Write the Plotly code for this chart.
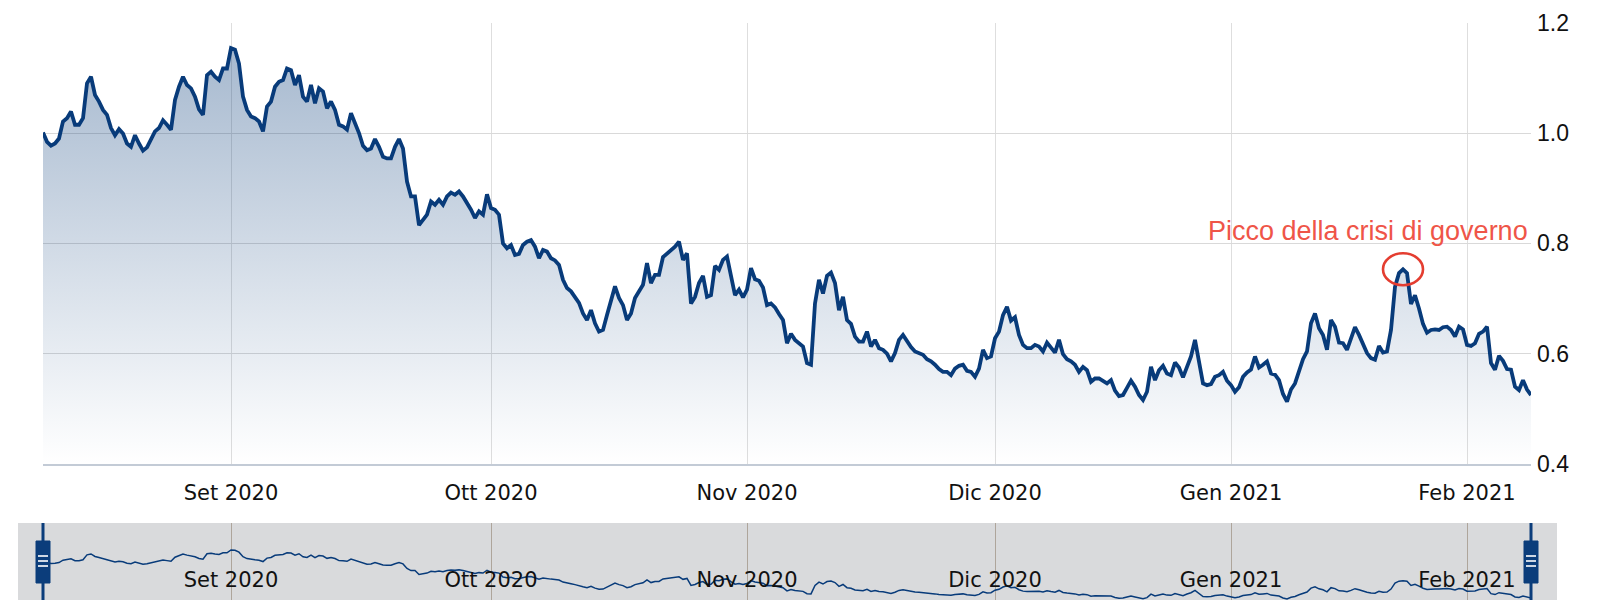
import pandas as pd
import plotly.graph_objects as go

# ---------------- data ----------------
aug_2020 = [1.001, 0.984, 0.977, 0.981, 0.990, 1.021, 1.027, 1.039, 1.015, 1.015,
            1.027, 1.090, 1.102, 1.069, 1.057, 1.042, 1.033, 1.009, 0.996, 1.007,
            0.999, 0.981, 0.975, 0.996, 0.981, 0.968, 0.974, 0.987, 1.003, 1.009,
            1.023, 1.015, 1.006, 1.060, 1.084, 1.102, 1.087, 1.081, 1.066, 1.043,
            1.033, 1.105, 1.111, 1.102, 1.096, 1.117, 1.117]
sep_2020 = [1.154, 1.151, 1.126, 1.066, 1.042, 1.030, 1.027, 1.021, 1.003, 1.048,
            1.057, 1.084, 1.093, 1.096, 1.117, 1.114, 1.087, 1.105, 1.066, 1.057,
            1.087, 1.054, 1.081, 1.075, 1.045, 1.057, 1.042, 1.015, 1.012, 1.006,
            1.036, 1.018, 1.000, 0.977, 0.969, 0.972, 0.989, 0.975, 0.957, 0.954,
            0.954, 0.975, 0.989, 0.972, 0.912, 0.885, 0.885, 0.833, 0.842, 0.852,
            0.876, 0.870, 0.879, 0.870, 0.885, 0.892, 0.888, 0.894, 0.885, 0.874,
            0.861, 0.846, 0.858, 0.852, 0.889]
oct_2020 = [0.864, 0.861, 0.852, 0.800, 0.791, 0.797, 0.779, 0.781, 0.797, 0.803,
            0.806, 0.794, 0.773, 0.788, 0.785, 0.773, 0.769, 0.761, 0.734, 0.719,
            0.713, 0.701, 0.692, 0.673, 0.661, 0.679, 0.655, 0.640, 0.643, 0.670,
            0.699, 0.722, 0.701, 0.688, 0.661, 0.673, 0.701, 0.713, 0.725, 0.764,
            0.728, 0.743, 0.743, 0.775, 0.781, 0.789, 0.794, 0.803, 0.770, 0.782,
            0.691, 0.703, 0.728, 0.741, 0.703, 0.706, 0.759, 0.752, 0.770, 0.776,
            0.740, 0.706, 0.716, 0.702]
nov_2020 = [0.716, 0.755, 0.735, 0.732, 0.720, 0.688, 0.691, 0.684, 0.672, 0.661,
            0.619, 0.636, 0.625, 0.618, 0.613, 0.583, 0.580, 0.691, 0.734, 0.709,
            0.741, 0.747, 0.728, 0.679, 0.703, 0.661, 0.654, 0.631, 0.622, 0.622,
            0.640, 0.613, 0.625, 0.610, 0.607, 0.600, 0.586, 0.601, 0.625, 0.634,
            0.622, 0.612, 0.604, 0.601, 0.598, 0.590, 0.586, 0.580, 0.572, 0.567,
            0.567, 0.561, 0.573, 0.578, 0.580, 0.569, 0.567, 0.558, 0.573, 0.607,
            0.592, 0.595]
dec_2020 = [0.628, 0.640, 0.670, 0.685, 0.660, 0.666, 0.634, 0.616, 0.610, 0.610,
            0.616, 0.613, 0.604, 0.620, 0.610, 0.602, 0.625, 0.599, 0.590, 0.586,
            0.580, 0.567, 0.576, 0.570, 0.549, 0.555, 0.555, 0.550, 0.546, 0.552,
            0.533, 0.523, 0.525, 0.538, 0.551, 0.540, 0.525, 0.516, 0.531, 0.576,
            0.552, 0.570, 0.578, 0.564, 0.561, 0.584, 0.575, 0.557, 0.578, 0.595,
            0.625, 0.589, 0.546, 0.543, 0.545, 0.558, 0.561, 0.567, 0.551]
jan_2021 = [0.543, 0.531, 0.539, 0.558, 0.566, 0.571, 0.595, 0.575, 0.580, 0.586,
            0.564, 0.562, 0.552, 0.527, 0.513, 0.535, 0.546, 0.568, 0.590, 0.604,
            0.655, 0.673, 0.646, 0.634, 0.607, 0.661, 0.649, 0.620, 0.619, 0.607,
            0.626, 0.648, 0.634, 0.616, 0.601, 0.592, 0.589, 0.614, 0.602, 0.604,
            0.643, 0.721, 0.746, 0.753, 0.746, 0.690, 0.706, 0.682, 0.654, 0.638,
            0.643, 0.644, 0.643, 0.648, 0.649, 0.643, 0.631, 0.649, 0.644]
feb_2021 = [0.616, 0.614, 0.619, 0.636, 0.640, 0.649, 0.583, 0.571, 0.596, 0.587,
            0.572, 0.571, 0.540, 0.534, 0.552, 0.535, 0.525]

month_values = [aug_2020, sep_2020, oct_2020, nov_2020, dec_2020, jan_2021, feb_2021]
month_first = ["2020-08-10", "2020-09-01", "2020-10-01", "2020-11-02",
               "2020-12-01", "2021-01-04", "2021-02-01"]
month_last = ["2020-08-31 18:00", "2020-09-30 18:00", "2020-10-30 18:00",
              "2020-11-30 18:00", "2020-12-31 12:00", "2021-01-29 18:00",
              "2021-02-09 18:00"]
tick_labels = ["Set 2020", "Ott 2020", "Nov 2020", "Dic 2020", "Gen 2021", "Feb 2021"]
y_ticks = [0.4, 0.6, 0.8, 1.0, 1.2]
annotation_text = "Picco della crisi di governo"

# ---------------- build the ordinal (trading-time) series ----------------
dates, values, first_idx = [], [], []
for seg, s, e in zip(month_values, month_first, month_last):
    first_idx.append(len(values))
    stamps = pd.date_range(s, e, periods=len(seg))
    dates += [t.strftime("%Y-%m-%d %H:%M") for t in stamps]
    values += seg
N = len(values)
tick_vals = [dates[i] for i in first_idx[1:]]

jan_start = first_idx[5]
peak_idx = jan_start + max(range(len(jan_2021)), key=lambda k: jan_2021[k])
peak_val = values[peak_idx]

# ---------------- geometry helpers ----------------
W, H = 1620, 600
def px(x):
    return x / W
def py(y):
    return 1 - y / H

LINE = "#083b7a"
PLOT_L, PLOT_R = 43, 1531
MAIN_T, MAIN_B = 22.7, 464
NAV_T = 523

fig = go.Figure()
fig.add_trace(go.Scatter(
    x=dates, y=values, mode="lines",
    line=dict(color=LINE, width=3.8),
    fill="tozeroy",
    fillgradient=dict(type="vertical",
                      colorscale=[[0, "rgba(10,61,122,0)"], [1, "rgba(10,61,122,0.36)"]],
                      start=0.4, stop=max(values)),
    xaxis="x", yaxis="y", hoverinfo="skip"))
fig.add_trace(go.Scatter(
    x=dates, y=values, mode="lines",
    line=dict(color=LINE, width=1.5),
    xaxis="x2", yaxis="y2", hoverinfo="skip"))

vmin, vmax = min(values), max(values)
nav_scale = 49 / (vmax - vmin)
nav_range = [vmin - 1 / nav_scale, vmax + 27 / nav_scale]

xfont = dict(family="DejaVu Sans", size=21, color="#111111")
yfont = dict(family="Liberation Sans, Arial", size=23, color="#111111")

fig.update_layout(
    width=W, height=H,
    margin=dict(l=0, r=0, t=0, b=0),
    paper_bgcolor="white", plot_bgcolor="rgba(0,0,0,0)",
    showlegend=False, hovermode=False,
    xaxis=dict(type="category", range=[0, N - 1], domain=[px(PLOT_L), px(PLOT_R)],
               anchor="y", tickmode="array", tickvals=tick_vals, ticktext=tick_labels,
               showgrid=True, gridcolor="#dedede", gridwidth=1,
               showline=True, linecolor="#c3cbd6", linewidth=1.5,
               ticks="", ticklabelstandoff=9, tickfont=xfont, automargin=False),
    yaxis=dict(range=[0.4, 1.2], domain=[py(MAIN_B), py(MAIN_T)], anchor="x",
               side="right", tickmode="array", tickvals=y_ticks, tickformat=".1f",
               showgrid=True, gridcolor="#d9d9d9", gridwidth=1, zeroline=False,
               ticks="", ticklabelstandoff=5, tickfont=yfont, automargin=False),
    xaxis2=dict(type="category", range=[0, N - 1], domain=[px(PLOT_L), px(PLOT_R)],
                anchor="y2", tickmode="array", tickvals=tick_vals, ticktext=tick_labels,
                showgrid=True, gridcolor="#aea59b", gridwidth=1, showline=False,
                ticks="", ticklabelposition="inside", ticklabelstandoff=6,
                tickfont=xfont, automargin=False),
    yaxis2=dict(range=nav_range, domain=[0, py(NAV_T)], anchor="x2",
                showgrid=False, showticklabels=False, zeroline=False, automargin=False),
)

shapes = [
    dict(type="rect", xref="paper", yref="paper", x0=px(18), x1=px(1557),
         y0=0, y1=py(NAV_T), fillcolor="#d9dadc", line=dict(width=0), layer="below"),
    dict(type="circle", xref="x", yref="y", xsizemode="pixel", ysizemode="pixel",
         xanchor=dates[peak_idx], yanchor=peak_val, x0=-20, x1=20, y0=-16, y1=16,
         line=dict(color="#e43d30", width=2.6)),
]
for hx in (PLOT_L, PLOT_R):
    shapes.append(dict(type="line", xref="paper", yref="paper", x0=px(hx), x1=px(hx),
                       y0=0, y1=py(NAV_T), line=dict(color="#0b3d7b", width=3)))
    shapes.append(dict(type="rect", xref="paper", yref="paper", x0=px(hx - 7), x1=px(hx + 7),
                       y0=py(583), y1=py(541), fillcolor="#0b3d7b",
                       line=dict(color="#0b3d7b", width=1)))
    for sy in (556, 561, 566):
        shapes.append(dict(type="line", xref="paper", yref="paper", x0=px(hx - 5), x1=px(hx + 5),
                           y0=py(sy), y1=py(sy), line=dict(color="white", width=1.6)))
fig.update_layout(shapes=shapes)

fig.add_annotation(text=annotation_text, xref="paper", yref="paper",
                   x=px(1530), y=py(231.5), xanchor="right", yanchor="middle",
                   showarrow=False,
                   font=dict(family="Liberation Sans, Arial", size=27, color="#ef5548"))

fig.write_html("out.html")
